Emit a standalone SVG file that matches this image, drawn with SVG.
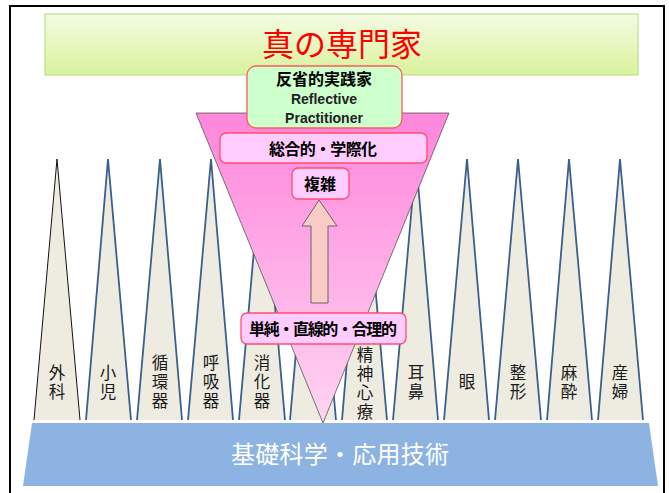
<svg xmlns="http://www.w3.org/2000/svg" width="669" height="493" viewBox="0 0 669 493">
<defs>
<linearGradient id="gTitle" x1="0" y1="0" x2="0" y2="1">
<stop offset="0" stop-color="#f4fbe4"/>
<stop offset="1" stop-color="#d9f39c"/>
</linearGradient>
<linearGradient id="gPink" x1="0" y1="0" x2="0" y2="1">
<stop offset="0" stop-color="#ff86dc"/>
<stop offset="1" stop-color="#ffd4f2"/>
</linearGradient>
<style>
.spike{fill:#eeece1;stroke:none}
.edge{fill:none;stroke:#3b5f8e;stroke-width:1.8}
.edge0{fill:none;stroke:#111;stroke-width:1}
.lbl{font-family:"Liberation Sans","Noto Sans CJK JP",sans-serif;font-size:16.5px;fill:#1a1a1a;text-anchor:middle}
.bx{font-family:"Noto Sans CJK JP","Noto Sans",sans-serif;font-size:16px;font-weight:700;fill:#000;text-anchor:middle}
.en{font-family:"Liberation Sans","Noto Sans",sans-serif;font-size:14px;font-weight:700;fill:#222;text-anchor:middle}
.pbox{fill:#ffccff;stroke:#ff4d6d;stroke-width:1.3}
</style>
</defs>
<rect x="0" y="0" width="669" height="493" fill="#fff"/>
<rect x="10" y="6" width="654" height="500" fill="#fff" stroke="#000" stroke-width="2"/>

<g id="title">
<rect x="45" y="14" width="593" height="61" fill="url(#gTitle)" stroke="#b5d77f" stroke-width="1"/>
<text x="342" y="56" font-family="Noto Sans CJK JP, sans-serif" font-size="32" fill="#ff0000" text-anchor="middle">真の専門家</text>
</g>

<g id="spikes">
<g id="s1"><polygon class="spike" points="34,420 57,159 80,420"/><polyline class="edge0" points="34,420 57,159 80,420"/>
<text class="lbl" x="57" y="379">外</text><text class="lbl" x="57" y="398">科</text></g>
<g id="s2"><polygon class="spike" points="86,420 108,159 131,420"/><polyline class="edge" points="86,420 108,159 131,420"/>
<text class="lbl" x="108" y="379">小</text><text class="lbl" x="108" y="398">児</text></g>
<g id="s3"><polygon class="spike" points="137,420 160,159 182,420"/><polyline class="edge" points="137,420 160,159 182,420"/>
<text class="lbl" x="160" y="369">循</text><text class="lbl" x="160" y="388">環</text><text class="lbl" x="160" y="407">器</text></g>
<g id="s4"><polygon class="spike" points="188,420 211,159 233,420"/><polyline class="edge" points="188,420 211,159 233,420"/>
<text class="lbl" x="211" y="369">呼</text><text class="lbl" x="211" y="388">吸</text><text class="lbl" x="211" y="407">器</text></g>
<g id="s5"><polygon class="spike" points="239,420 262,159 285,420"/><polyline class="edge" points="239,420 262,159 285,420"/>
<text class="lbl" x="262" y="369">消</text><text class="lbl" x="262" y="388">化</text><text class="lbl" x="262" y="407">器</text></g>
<g id="s6"><polygon class="spike" points="290,420 313,159 336,420"/><polyline class="edge" points="290,420 313,159 336,420"/></g>
<g id="s7"><polygon class="spike" points="342,420 364,159 387,420"/><polyline class="edge" points="342,420 364,159 387,420"/>
<text class="lbl" x="365" y="361">精</text><text class="lbl" x="365" y="380">神</text><text class="lbl" x="365" y="399">心</text><text class="lbl" x="365" y="418">療</text></g>
<g id="s8"><polygon class="spike" points="393,420 416,159 438,420"/><polyline class="edge" points="393,420 416,159 438,420"/>
<text class="lbl" x="416" y="379">耳</text><text class="lbl" x="416" y="398">鼻</text></g>
<g id="s9"><polygon class="spike" points="444,420 467,159 489,420"/><polyline class="edge" points="444,420 467,159 489,420"/>
<text class="lbl" x="467" y="388">眼</text></g>
<g id="s10"><polygon class="spike" points="495,420 518,159 541,420"/><polyline class="edge" points="495,420 518,159 541,420"/>
<text class="lbl" x="518" y="379">整</text><text class="lbl" x="518" y="398">形</text></g>
<g id="s11"><polygon class="spike" points="547,420 569,159 592,420"/><polyline class="edge" points="547,420 569,159 592,420"/>
<text class="lbl" x="569" y="379">麻</text><text class="lbl" x="569" y="398">酔</text></g>
<g id="s12"><polygon class="spike" points="598,420 620,159 643,420"/><polyline class="edge" points="598,420 620,159 643,420"/>
<text class="lbl" x="620" y="379">産</text><text class="lbl" x="620" y="398">婦</text></g>
</g>

<g id="funnel">
<polygon points="196,113 449,113 323,423" fill="url(#gPink)" stroke="#555" stroke-width="0.8"/>
</g>

<g id="base">
<polygon points="32,423 649,423 658,486 23,486" fill="#8db3e2"/>
<text x="340" y="463" font-family="Noto Sans CJK JP, sans-serif" font-size="24" fill="#fff" text-anchor="middle" textLength="218" lengthAdjust="spacing">基礎科学・応用技術</text>
</g>

<g id="connectors">
<polygon points="319,200 337,226 328,226 328,303 311,303 311,226 302,226" fill="#f9cbc5" stroke="#666" stroke-width="1"/>
</g>

<g id="reflective">
<rect x="247" y="66" width="155" height="62" rx="9" fill="#ccffcc" stroke="#ff5a5a" stroke-width="1.3"/>
<text class="bx" x="324" y="85">反省的実践家</text>
<text class="en" x="324" y="104">Reflective</text>
<text class="en" x="324" y="123">Practitioner</text>
</g>

<g id="sogo">
<rect class="pbox" x="220" y="133" width="207" height="30" rx="6"/>
<text class="bx" x="323" y="155" textLength="108" lengthAdjust="spacing">総合的・学際化</text>
</g>

<g id="fukuzatsu">
<rect class="pbox" x="292" y="168" width="57" height="31" rx="6"/>
<text class="bx" x="320" y="190">複雑</text>
</g>

<g id="tanjun">
<rect class="pbox" x="241" y="313" width="165" height="31" rx="6"/>
<text class="bx" x="323" y="335" textLength="148" lengthAdjust="spacing">単純・直線的・合理的</text>
</g>
</svg>
